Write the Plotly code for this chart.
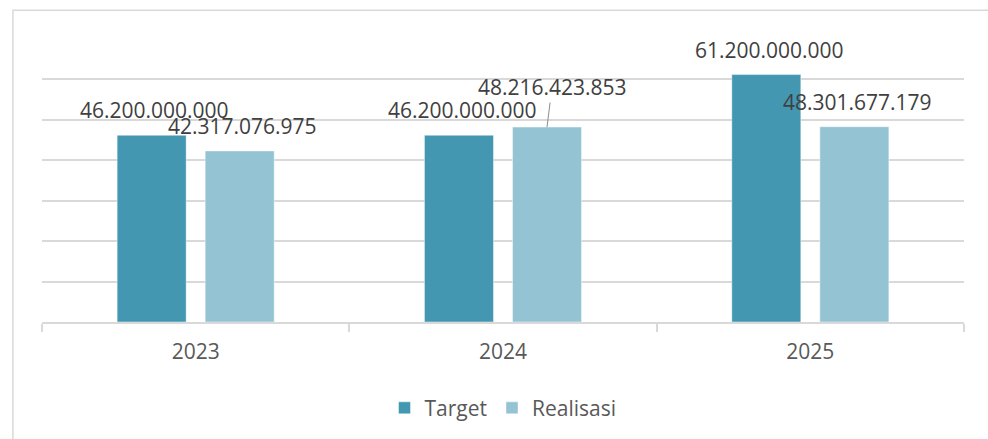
import plotly.graph_objects as go

# Data
years = ["2023", "2024", "2025"]
target = [46200000000, 46200000000, 61200000000]
realisasi = [42317076975, 48216423853, 48301677179]

TARGET_COLOR = "#4397b0"
REAL_COLOR = "#94c3d4"
GRID = "#d9d9d9"
FONT = "Open Sans, Liberation Sans, sans-serif"


def fmt(v):
    return f"{v:,}".replace(",", ".")


fig = go.Figure()
fig.add_trace(go.Bar(
    name="Target", x=years, y=target,
    marker=dict(color=TARGET_COLOR, line=dict(color="rgba(255,255,255,0.45)", width=1)),
))
fig.add_trace(go.Bar(
    name="Realisasi", x=years, y=realisasi,
    marker=dict(color=REAL_COLOR, line=dict(color="rgba(255,255,255,0.45)", width=1)),
))

# Data labels above the bars; x is the category index, shifted to each bar of the group
offset = 44
label_font = dict(family=FONT, size=21, color="#404040")
for i, yr in enumerate(years):
    fig.add_annotation(x=i, y=target[i], text=fmt(target[i]), showarrow=False,
                       xshift=-offset + 3, yshift=25, yanchor="middle",
                       font=label_font)
    if yr == "2024":
        fig.add_annotation(x=i, y=realisasi[i], text=fmt(realisasi[i]),
                           showarrow=True, arrowhead=0, arrowwidth=1,
                           arrowcolor="#8c8c8c", ax=5, ay=-40,
                           xshift=offset, font=label_font)
    else:
        fig.add_annotation(x=i, y=realisasi[i], text=fmt(realisasi[i]), showarrow=False,
                           xshift=offset + 3, yshift=25, yanchor="middle",
                           font=label_font)

# Outer chart frame
fig.add_shape(type="rect", xref="paper", yref="paper",
              x0=-0.0315, x1=1.04, y0=-0.45, y1=1.102,
              line=dict(color=GRID, width=1.5), layer="below")

fig.update_layout(
    width=988, height=439,
    margin=dict(l=42, r=24, t=39, b=116),
    paper_bgcolor="white", plot_bgcolor="white",
    barmode="group", bargap=0.427, bargroupgap=0.216,
    font=dict(family=FONT, color="#595959"),
    showlegend=True,
    legend=dict(orientation="h", x=0.5, xanchor="center", y=-0.30, yanchor="middle",
                font=dict(family=FONT, size=21, color="#595959"),
                itemwidth=30, bgcolor="rgba(0,0,0,0)"),
    xaxis=dict(type="category", range=[-0.5, 2.5], showline=True, linecolor=GRID,
               linewidth=1.5, ticks="outside", tickson="boundaries", ticklen=8,
               tickcolor=GRID, tickwidth=1.5,
               tickfont=dict(family=FONT, size=21, color="#595959"),
               ticklabelstandoff=10, showgrid=False),
    yaxis=dict(range=[0, 70e9], dtick=10e9, showticklabels=False,
               showgrid=True, gridcolor=GRID, gridwidth=1.5, zeroline=False,
               showline=False, ticks=""),
)

fig.write_html("out.html")
